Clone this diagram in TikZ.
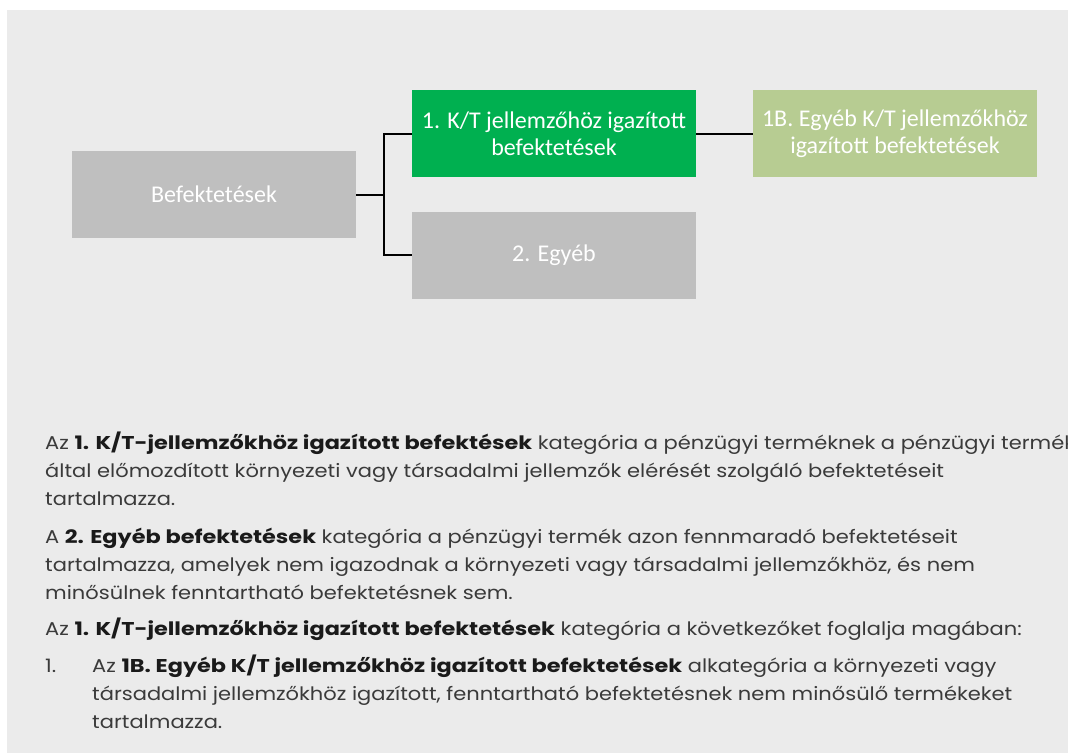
\documentclass[tikz,border=0pt]{standalone}
\usepackage{fontspec}
\newfontfamily\boxfont{Carlito}
\newfontfamily\bodyfont{Poppins}[FakeStretch=1.135, BoldFeatures={FakeStretch=1.21}]
\usetikzlibrary{positioning}
\definecolor{panel}{HTML}{EBEBEB}
\definecolor{boxgray}{HTML}{BFBFBF}
\definecolor{ktgreen}{HTML}{00B050}
\definecolor{ltgreen}{HTML}{B7CC92}
\definecolor{bodytext}{HTML}{3A3A3A}
\definecolor{boldtext}{HTML}{1A1A1A}
\newcommand{\hl}[1]{{\bfseries\color{boldtext}#1}}

\begin{document}
\begin{tikzpicture}[x=1pt, y=-1pt,
    box/.style={minimum width=284pt, minimum height=87pt, inner sep=0pt, text=white, align=center,
        font=\boxfont\fontsize{24}{27}\selectfont},
    link/.style={line width=2pt},
    txt/.style={anchor=base west, inner sep=0pt, text=bodytext, font=\bodyfont\fontsize{18.5}{28}\selectfont}]
    \useasboundingbox (0,0) rectangle (1068,753);
    \clip (0,0) rectangle (1068,753);
    \fill[panel] (7,10) rectangle (1068,753);

    \node[box, fill=boxgray] (inv) at (214,194.5) {Befektetések};
    \node[box, fill=ktgreen] (kt) at (554,133.5) {1. K/T jellemzőhöz igazított\\befektetések};
    \node[box, fill=boxgray] (other) at (554,255) {2. Egyéb};
    \node[box, fill=ltgreen] (kt1b) at (895,133.5) {1B. Egyéb K/T jellemzőkhöz\\igazított befektetések};

    \coordinate (fork) at (384,194.5);
    \draw[link] (inv.east) -- (fork);
    \draw[link] (kt.west) -| (fork) |- (other.west);
    \draw[link] (kt.east) -- (kt1b.west);

    \node[txt] (p1a) at (45,449) {Az \hl{1. K/T-jellemzőkhöz igazított befektések} kategória a pénzügyi terméknek a pénzügyi termék};
    \node[txt] (p1b) at (45,477) {által előmozdított környezeti vagy társadalmi jellemzők elérését szolgáló befektetéseit};
    \node[txt] (p1c) at (45,505) {tartalmazza.};
    \node[txt] (p2a) at (45,543) {A \hl{2. Egyéb befektetések} kategória a pénzügyi termék azon fennmaradó befektetéseit};
    \node[txt] (p2b) at (45,571) {tartalmazza, amelyek nem igazodnak a környezeti vagy társadalmi jellemzőkhöz, és nem};
    \node[txt] (p2c) at (45,599) {minősülnek fenntartható befektetésnek sem.};
    \node[txt] (p3a) at (45,635) {Az \hl{1. K/T-jellemzőkhöz igazított befektetések} kategória a következőket foglalja magában:};
    \node[txt] (num) at (45,672) {1.};
    \node[txt] (i1a) at (92,672) {Az \hl{1B. Egyéb K/T jellemzőkhöz igazított befektetések} alkategória a környezeti vagy};
    \node[txt] (i1b) at (92,700) {társadalmi jellemzőkhöz igazított, fenntartható befektetésnek nem minősülő termékeket};
    \node[txt] (i1c) at (92,728) {tartalmazza.};
\end{tikzpicture}
\end{document}
